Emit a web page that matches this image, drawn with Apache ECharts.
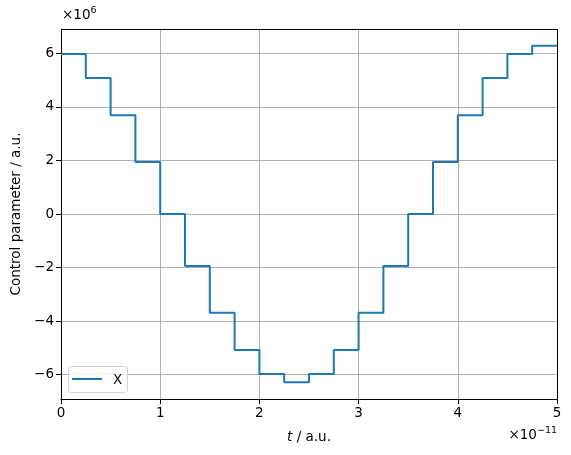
<!DOCTYPE html>
<html><head><meta charset="utf-8">
<script src="https://cdn.jsdelivr.net/npm/echarts@6/dist/echarts.min.js"></script>
<style>html,body{margin:0;padding:0;background:#fff}#c{width:571px;height:455px}</style>
</head><body><div id="c"></div>
<script>
// step start times (units of 1e-11 a.u.), last entry closes the final step
const tValues = [0,0.25,0.5,0.75,1,1.25,1.5,1.75,2,2.25,2.5,2.75,3,3.25,3.5,3.75,4,4.25,4.5,4.75,5];
// control parameter X (units of 1e6 a.u.)
const xValues = [5.976,5.083,3.693,1.942,0,-1.942,-3.693,-5.083,-5.976,-6.283,-5.976,-5.083,-3.693,-1.942,0,1.942,3.693,5.083,5.976,6.283,6.283];
const xTicks = [0,1,2,3,4,5];
const yTicks = [-6,-4,-2,0,2,4,6];
const yMin = -6.911, yMax = 6.911;

const font = 'DejaVu Sans';
const chart = echarts.init(document.getElementById('c'), null, {renderer:'canvas'});
const gridColor = '#b0b0b0';
const gridLines = [];
yTicks.forEach(v => gridLines.push({yAxis: v}));
xTicks.forEach(v => gridLines.push({xAxis: v}));
const fmt = v => String(v).replace('-', '\u2212');

chart.setOption({
  animation: false,
  backgroundColor: '#fff',
  grid: {left: 61, right: 14, top: 29, bottom: 56, containLabel: false},
  xAxis: {
    type: 'value', min: 0, max: 5, interval: 1,
    axisLine: {show: true, onZero: false, lineStyle: {color: '#000', width: 1}},
    axisTick: {show: true, length: 5, lineStyle: {color: '#000'}},
    axisLabel: {color: '#000', fontFamily: font, fontSize: 13.5, margin: 7, formatter: fmt},
    splitLine: {show: false}
  },
  yAxis: {
    type: 'value', min: yMin, max: yMax,
    axisLine: {show: true, onZero: false, lineStyle: {color: '#000', width: 1}},
    axisTick: {show: true, length: 5, lineStyle: {color: '#000'}, customValues: yTicks},
    axisLabel: {color: '#000', fontFamily: font, fontSize: 13.5, margin: 7, customValues: yTicks, formatter: fmt},
    splitLine: {show: false}
  },
  legend: {show: false},
  series: [
    {
      type: 'line', data: [], z: 0, zlevel: 0, silent: true,
      markLine: {silent: true, symbol: 'none', label: {show: false}, z: 0,
        lineStyle: {color: gridColor, width: 1, type: 'solid'}, data: gridLines, animation: false}
    },
    {
      name: 'X', type: 'line', step: 'end', z: 20, zlevel: 0,
      data: tValues.map((t, i) => [t, xValues[i]]),
      showSymbol: false, symbol: 'none',
      lineStyle: {color: '#1f77b4', width: 2},
      itemStyle: {color: '#1f77b4'}
    }
  ],
  graphic: [
    // frame top & right
    {type: 'line', shape: {x1: 61, y1: 29.5, x2: 557.5, y2: 29.5}, style: {stroke: '#000', lineWidth: 1}, z: 30},
    {type: 'line', shape: {x1: 557.5, y1: 29, x2: 557.5, y2: 399.5}, style: {stroke: '#000', lineWidth: 1}, z: 30},
    // offset texts
    {type: 'text', left: 62, top: 6, z: 30, style: {
      text: '×10{s|6}', fill: '#000', font: '13.5px "DejaVu Sans"',
      rich: {s: {fontSize: 9.5, fontFamily: font, verticalAlign: 'top', padding: [0,0,8,0]}}}},
    {type: 'text', right: 14, top: 426, z: 30, style: {
      text: '×10{s|−11}', fill: '#000', font: '13.5px "DejaVu Sans"',
      rich: {s: {fontSize: 9.5, fontFamily: font, verticalAlign: 'top', padding: [0,0,8,0]}}}},
    // axis titles
    {type: 'text', x: 309, y: 437, z: 30, style: {
      text: '{i|t} / a.u.', fill: '#000', font: '13.5px "DejaVu Sans"', align: 'center', verticalAlign: 'middle',
      rich: {i: {fontStyle: 'italic', fontFamily: font, fontSize: 13.5}}}},
    {type: 'text', x: 16, y: 214, rotation: Math.PI / 2, z: 30, style: {
      text: 'Control parameter / a.u.', fill: '#000', font: '13.5px "DejaVu Sans"', align: 'center', verticalAlign: 'middle'}},
    // legend
    {type: 'rect', shape: {x: 68.5, y: 366.5, width: 59, height: 26, r: 3}, style: {fill: 'rgba(255,255,255,0.8)', stroke: '#d0d0d0', lineWidth: 1}, z: 30},
    {type: 'line', shape: {x1: 72, y1: 379, x2: 102, y2: 379}, style: {stroke: '#1f77b4', lineWidth: 2}, z: 31},
    {type: 'text', x: 113, y: 380, z: 31, style: {text: 'X', fill: '#000', font: '13.5px "DejaVu Sans"', verticalAlign: 'middle'}}
  ]
});
</script></body></html>
